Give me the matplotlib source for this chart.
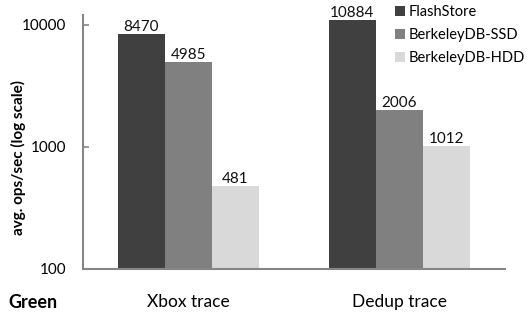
import matplotlib
matplotlib.use("Agg")
import matplotlib.pyplot as plt
import numpy as np

categories = ["Xbox trace", "Dedup trace"]
series_names = ["FlashStore", "BerkeleyDB-SSD", "BerkeleyDB-HDD"]
flashstore = [8470, 10884]
bdb_ssd = [4985, 2006]
bdb_hdd = [481, 1012]
yticks = [100, 1000, 10000]

plt.rcParams['font.family'] = ['Lato', 'DejaVu Sans']

fig = plt.figure(figsize=(5.27, 3.14), dpi=100)
ax = fig.add_axes([83/527, 1-269/314, (505-83)/527, (269-15)/314])

colors = ["#404040", "#808080", "#d9d9d9"]
series = [flashstore, bdb_ssd, bdb_hdd]
x = np.arange(len(categories))
w = 0.223
for i, (vals, name, c) in enumerate(zip(series, series_names, colors)):
    pos = x + (i - 1) * w
    ax.bar(pos, vals, width=w, color=c, label=name, zorder=2)
    for p, v in zip(pos, vals):
        ax.annotate(f"{v}", (p, v), xytext=(0, 0), textcoords="offset points",
                    ha="center", va="bottom", fontsize=11, color="#111111")

ax.set_yscale("log")
ax.set_ylim(100, 12050)
ax.set_xlim(-0.5, 1.5)
ax.set_yticks(yticks)
ax.set_yticklabels([str(t) for t in yticks])
ax.yaxis.set_minor_locator(matplotlib.ticker.NullLocator())
ax.set_xticks(x)
ax.set_xticklabels(categories)
ax.tick_params(axis="y", direction="in", length=4, width=1.2, color="#868686", labelsize=11, pad=12)
ax.tick_params(axis="x", length=0, labelsize=12.5, pad=18)
for s in ["top", "right"]:
    ax.spines[s].set_visible(False)
for s in ["left", "bottom"]:
    ax.spines[s].set_color("#868686")
    ax.spines[s].set_linewidth(1.5)

ax.set_ylabel("avg. ops/sec (log scale)", fontsize=11, fontweight="bold")
ax.yaxis.set_label_coords(-0.135, 0.44)

leg = ax.legend(loc="upper left", bbox_to_anchor=(395/527, 1-5/314), bbox_transform=fig.transFigure,
                frameon=False, fontsize=10.5, handlelength=0.68, handleheight=0.68,
                handletextpad=0.25, labelspacing=0.62, borderaxespad=0, borderpad=0)

fig.text(8/527, 1-302/314, "Green", fontsize=13, fontweight="bold", va="center", ha="left")

fig.savefig("out.png", dpi=100)
